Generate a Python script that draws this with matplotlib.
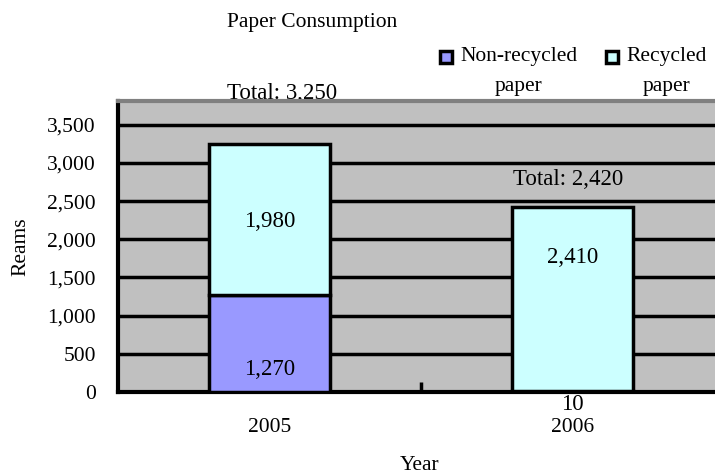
import matplotlib.pyplot as plt
from matplotlib.patches import Rectangle

years = ['2005', '2006']
non_recycled = [1270, 10]
recycled = [1980, 2410]
totals = [3250, 2420]
yticks = [0, 500, 1000, 1500, 2000, 2500, 3000, 3500]
series = ['Non-recycled\npaper', 'Recycled\npaper']
colors = ['#9999FF', '#CCFFFF']

plt.rcParams['font.family'] = ['Liberation Serif', 'DejaVu Serif']

fig = plt.figure(figsize=(7.15, 4.74), dpi=100)
ax = fig.add_axes([118/715, 1-392/474, (715-118)/715, (392-101)/474])
ax.set_facecolor('#C0C0C0')

x = range(len(years))
w = 0.40
ax.bar(x, non_recycled, w, color=colors[0], edgecolor='black', linewidth=2.5, zorder=3)
ax.bar(x, recycled, w, bottom=non_recycled, color=colors[1], edgecolor='black', linewidth=2.5, zorder=3)

for yv in yticks[1:]:
    ax.axhline(yv, color='black', lw=2.5, zorder=1)

ax.set_xlim(-0.5, 1.47)
ax.set_ylim(0, 3810)
ax.set_yticks(yticks)
ax.set_yticklabels([f'{v:,}' for v in yticks], fontsize=15.5)
ax.set_xticks(list(x))
ax.set_xticklabels(years, fontsize=15.5)
ax.tick_params(axis='y', length=0, pad=16)
ax.tick_params(axis='x', length=0, pad=19)
ax.set_xticks([0.5], minor=True)
ax.tick_params(axis='x', which='minor', direction='in', length=7, width=2.5)

for s in ['left', 'bottom']:
    ax.spines[s].set_linewidth(3)
    ax.spines[s].set_color('black')
ax.spines['top'].set_color('#808080')
ax.spines['top'].set_linewidth(3)
ax.spines['right'].set_visible(False)

# segment labels
fs = 16.5
ax.text(0, 290, f'{non_recycled[0]:,}', ha='center', va='center', fontsize=fs, zorder=4)
ax.text(0, non_recycled[0] + recycled[0] / 2 - 30, f'{recycled[0]:,}', ha='center', va='center', fontsize=fs, zorder=4)
ax.text(1, 1756, f'{recycled[1]:,}', ha='center', va='center', fontsize=fs, zorder=4)
ax.text(1, -170, f'{non_recycled[1]}', ha='center', va='center', fontsize=fs, zorder=4)
ax.text(0.04, totals[0] + 660, f'Total: {totals[0]:,}', ha='center', va='center', fontsize=fs, zorder=2)
ax.text(0.985, totals[1] + 360, f'Total: {totals[1]:,}', ha='center', va='center', fontsize=fs, zorder=4)

ax.set_ylabel('Reams', fontsize=15.5, labelpad=12)
fig.text(420/715, 1-465/474, 'Year', ha='center', va='center', fontsize=15.5)
fig.text(312/715, 1-22/474, 'Paper Consumption', ha='center', va='center', fontsize=15.5)

# legend
for lx, label, c in zip([440, 606], series, colors):
    fig.patches.append(Rectangle((lx/715, 1-63/474), 12/715, 12/474, transform=fig.transFigure,
                                 facecolor=c, edgecolor='black', linewidth=2.5))
    first, second = label.split('\n')
    t = fig.text((lx + 20)/715, 1-57/474, first, ha='left', va='center', fontsize=15.5)
    fig.canvas.draw()
    bb = t.get_window_extent()
    fig.text((bb.x0 + bb.x1) / 2 / fig.bbox.width, 1-87/474, second, ha='center', va='center', fontsize=15.5)

fig.savefig('out.png', dpi=100)
